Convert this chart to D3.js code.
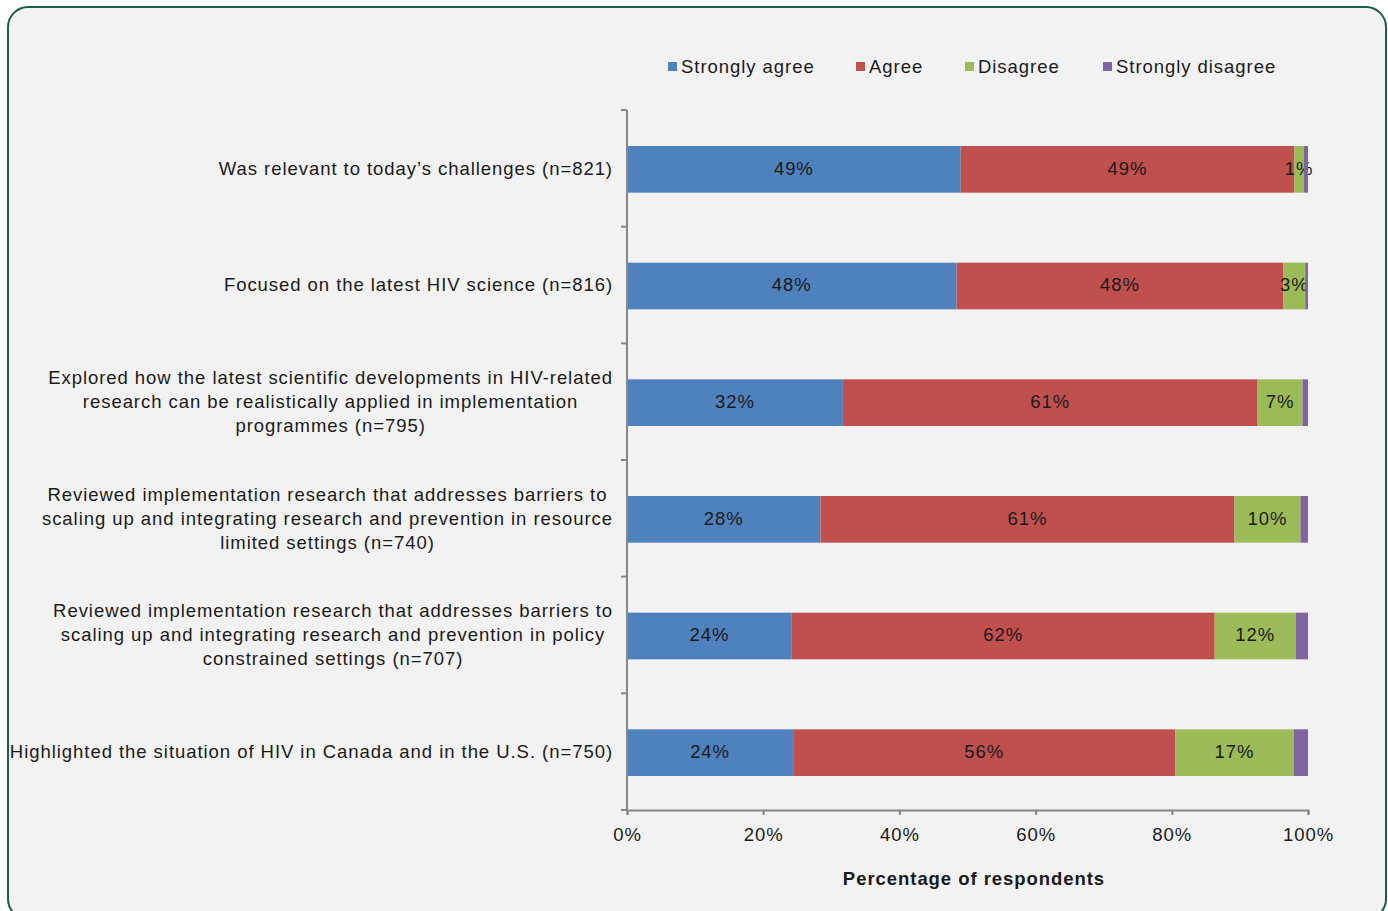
<!DOCTYPE html>
<html>
<head>
<meta charset="utf-8">
<script src="https://cdn.jsdelivr.net/npm/d3@7"></script>
<style>
  html, body { margin: 0; padding: 0; background: #ffffff; }
  svg { display: block; }
  text { font-family: "Liberation Sans", Arial, sans-serif; }
</style>
</head>
<body>
<svg id="chart" width="1388" height="911"></svg>
<script>
// ---- Data ----
const categories = [
  ["Was relevant to today\u2019s challenges (n=821)"],
  ["Focused on the latest HIV science (n=816)"],
  ["Explored how the latest scientific developments in HIV-related", "research can be realistically applied in implementation", "programmes (n=795)"],
  ["Reviewed implementation research that addresses barriers to", "scaling up and integrating research and prevention in resource", "limited settings (n=740)"],
  ["Reviewed implementation research that addresses barriers to", "scaling up and integrating research and prevention in policy", "constrained settings (n=707)"],
  ["Highlighted the situation of HIV in Canada and in the U.S. (n=750)"]
];
const seriesNames = ["Strongly agree", "Agree", "Disagree", "Strongly disagree"];
const stronglyAgree    = [49.0, 48.4, 31.7, 28.4, 24.2, 24.4];
const agree            = [49.0, 48.0, 60.9, 60.8, 62.1, 56.1];
const disagree         = [1.4, 3.2, 6.6, 9.7, 11.9, 17.4];
const stronglyDisagree = [0.6, 0.4, 0.8, 1.1, 1.8, 2.1];
const showLabel = [true, true, true, false];
const xTicks = [0, 20, 40, 60, 80, 100];
const xTitle = "Percentage of respondents";
const colors = ["#4F81BD", "#C0504D", "#9BBB59", "#8064A2"];

const FS = 18.5, LS = 0.95;

// ---- Layout ----
const svg = d3.select("#chart");
const plot = { left: 627, right: 1308, top: 110, bottom: 810 };

svg.append("rect")
  .attr("x", 8).attr("y", 7).attr("width", 1378).attr("height", 912)
  .attr("rx", 20).attr("ry", 20)
  .attr("fill", "#F2F2F2").attr("stroke", "#1E5C44").attr("stroke-width", 2);

const x = d3.scaleLinear().domain([0, 100]).range([plot.left, plot.right]);
const y = d3.scaleBand().domain(d3.range(categories.length))
  .range([plot.top, plot.bottom]).paddingInner(0.6).paddingOuter(0.3);

const rows = categories.map((c, i) => ({
  i,
  vals: [stronglyAgree[i], agree[i], disagree[i], stronglyDisagree[i]]
}));
const stack = d3.stack().keys([0, 1, 2, 3]).value((d, k) => d.vals[k]);
const stacked = stack(rows);

const g = svg.append("g");
stacked.forEach((layer, k) => {
  g.selectAll(null).data(layer).enter().append("rect")
    .attr("x", d => x(d[0]))
    .attr("y", d => y(d.data.i) + 1)
    .attr("width", d => x(d[1]) - x(d[0]))
    .attr("height", y.bandwidth())
    .attr("fill", colors[k]);
  if (showLabel[k]) {
    g.selectAll(null).data(layer).enter().append("text")
      .attr("x", d => (x(d[0]) + x(d[1])) / 2)
      .attr("y", d => y(d.data.i) + y.bandwidth() / 2)
      .attr("dy", "0.35em")
      .attr("text-anchor", "middle")
      .attr("font-size", FS)
      .attr("letter-spacing", LS)
      .attr("fill", "#1a1a1a")
      .text(d => Math.round(d.data.vals[k]) + "%");
  }
});

// Y axis (category boundaries as ticks)
const yAxisG = svg.append("g").attr("stroke", "#868686").attr("stroke-width", 2);
yAxisG.append("line").attr("x1", plot.left).attr("x2", plot.left)
  .attr("y1", plot.top).attr("y2", plot.bottom);
const step = (plot.bottom - plot.top) / categories.length;
d3.range(categories.length + 1).forEach(j => {
  yAxisG.append("line").attr("x1", plot.left - 6).attr("x2", plot.left)
    .attr("y1", plot.top + j * step).attr("y2", plot.top + j * step);
});

// X axis
const xAxis = d3.axisBottom(x).tickValues(xTicks).tickFormat(d => d + "%").tickSize(5).tickPadding(13);
const xg = svg.append("g").attr("transform", `translate(0,${plot.bottom})`).call(xAxis);
xg.select(".domain").attr("stroke", "#868686").attr("stroke-width", 2);
xg.selectAll(".tick line").attr("stroke", "#868686").attr("stroke-width", 2);
xg.selectAll(".tick text").attr("font-size", FS).attr("letter-spacing", LS)
  .attr("fill", "#1a1a1a").attr("font-family", "Liberation Sans, Arial, sans-serif");

svg.append("text").attr("x", 974).attr("y", 885).attr("text-anchor", "middle")
  .attr("font-size", FS).attr("font-weight", "bold").attr("letter-spacing", LS)
  .attr("fill", "#1a1a1a").text(xTitle);

// Category labels: block right-aligned at 613, lines centered within block
const lineH = 24;
categories.forEach((lines, i) => {
  const cy = y(i) + y.bandwidth() / 2;
  const grp = svg.append("g");
  const texts = lines.map((ln, j) => grp.append("text")
    .attr("y", cy + (j - (lines.length - 1) / 2) * lineH)
    .attr("dy", "0.35em")
    .attr("text-anchor", "middle")
    .attr("font-size", FS)
    .attr("letter-spacing", LS)
    .attr("fill", "#1a1a1a")
    .text(ln));
  const maxW = d3.max(texts, t => t.node().getComputedTextLength());
  texts.forEach(t => t.attr("x", 613 - maxW / 2));
});

// Legend
const legendX = [668, 856, 965, 1103];
seriesNames.forEach((name, k) => {
  svg.append("rect").attr("x", legendX[k]).attr("y", 62).attr("width", 9).attr("height", 9)
    .attr("fill", colors[k]);
  svg.append("text").attr("x", legendX[k] + 13).attr("y", 67).attr("dy", "0.35em")
    .attr("font-size", FS).attr("letter-spacing", LS).attr("fill", "#1a1a1a").text(name);
});
</script>
</body>
</html>
